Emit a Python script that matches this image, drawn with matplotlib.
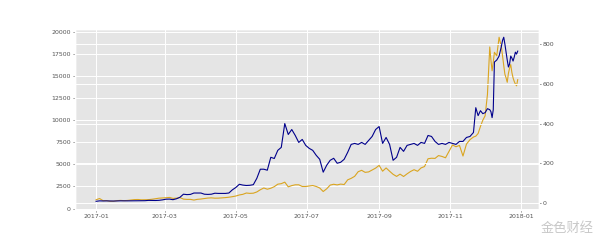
import matplotlib
matplotlib.use("Agg")
import matplotlib.pyplot as plt
import matplotlib.dates as mdates
from matplotlib.ticker import MultipleLocator
import pandas as pd

plt.style.use("ggplot")

# regular 3-day samples, 2017-01-01 .. 2017-11-18
dates_main = pd.date_range("2017-01-01", periods=108, freq="3D")
# denser samples for the end of the year
dates_end = ['2017-11-21', '2017-11-23', '2017-11-25', '2017-11-27', '2017-11-29',
             '2017-12-01', '2017-12-03', '2017-12-05', '2017-12-06', '2017-12-07',
             '2017-12-08', '2017-12-09', '2017-12-11', '2017-12-13', '2017-12-15',
             '2017-12-16', '2017-12-17', '2017-12-18', '2017-12-19', '2017-12-20',
             '2017-12-21', '2017-12-22', '2017-12-23', '2017-12-24', '2017-12-25',
             '2017-12-26', '2017-12-27', '2017-12-28', '2017-12-29']

btc_main = [1000, 1135, 895, 905, 820, 830, 900, 925, 895, 920, 970,
            1015, 1025, 990, 1000, 1010, 1055, 1120, 1175, 1195,
            1225, 1260, 1150, 1180, 1245, 1070, 1040, 1040, 965, 1045,
            1080, 1140, 1190, 1210, 1175, 1180, 1210, 1240, 1285, 1345,
            1420, 1540, 1610, 1760, 1720, 1740, 1880, 2130, 2330, 2190, 2300,
            2480, 2760, 2820, 2990, 2460, 2600, 2690, 2690, 2500, 2500,
            2560, 2610, 2500, 2330, 1930, 2240, 2660, 2750, 2680, 2770,
            2720, 3250, 3420, 3650, 4170, 4330, 4100, 4150, 4360, 4580,
            4890, 4230, 4600, 4230, 3880, 3640, 3900, 3630, 3930, 4200,
            4400, 4220, 4600, 4760, 5640, 5700, 5680, 6000, 5900, 5750, 6470,
            7200, 7000, 7150, 5950, 7300, 7800]
btc_end = [8100, 8200, 8500, 9300, 10000, 10500, 12900, 18300, 16800, 15600,
           16600, 17700, 17300, 19400, 18300, 17200, 16200, 15200, 14800, 14300,
           15300, 15900, 16300, 15400, 14800, 14400, 14100, 13900, 14600]

eth_main = [8.2, 10.5, 10.0, 10.3, 9.8, 9.6, 10.4, 10.7, 10.5, 10.5, 10.7,
            11.0, 11.3, 11.2, 11.4, 12.9, 12.8, 12.4, 13.2, 15.5,
            18.9, 19.5, 16.4, 21, 28.5, 44, 42, 43, 50, 50,
            50, 44, 43, 44, 49, 48, 48, 48, 50, 66,
            78, 94, 90, 88, 89, 92, 124, 170, 170, 165, 230,
            224, 265, 280, 400, 345, 370, 340, 305, 320, 290,
            275, 265, 240, 220, 155, 190, 215, 225, 200, 205,
            220, 255, 295, 300, 295, 305, 295, 315, 335, 370,
            385, 300, 330, 295, 215, 230, 280, 260, 290, 295,
            300, 290, 305, 300, 340, 335, 310, 295, 300, 295, 305,
            300, 295, 310, 310, 330, 335]
eth_end = [355, 480, 440, 465, 450, 455, 475, 470, 460, 430,
           470, 710, 720, 740, 790, 820, 835, 800, 760, 720,
           685, 700, 740, 730, 715, 735, 760, 750, 765]

dates = list(dates_main) + list(pd.to_datetime(dates_end))
btc = btc_main + btc_end
eth = eth_main + eth_end

fig = plt.figure(figsize=(6, 2.4), dpi=100)
ax1 = fig.add_axes([0.125, 0.127, 0.773, 0.752])
ax1.plot(dates, btc, color="#DAA520", lw=0.8)
ax2 = ax1.twinx()
ax2.plot(dates, eth, color="#00008B", lw=0.8)

ax1.yaxis.set_major_locator(MultipleLocator(2500))
ax2.yaxis.set_major_locator(MultipleLocator(200))
ax1.xaxis.set_major_locator(mdates.MonthLocator(bymonth=[1, 3, 5, 7, 9, 11]))
ax1.xaxis.set_major_formatter(mdates.DateFormatter("%Y-%m"))

for ax in (ax1, ax2):
    ax.tick_params(labelsize=4.5, length=1.5, width=0.5, colors="#555555", pad=1.5)
    ax.grid(True, color="white", lw=0.7)

fig.text(0.99, 0.02, "金色财经", family=["Noto Sans CJK SC", "DejaVu Sans"],
         fontsize=9.5, color="#c8c8c8", ha="right", va="bottom")

fig.savefig("out.png", dpi=100)
